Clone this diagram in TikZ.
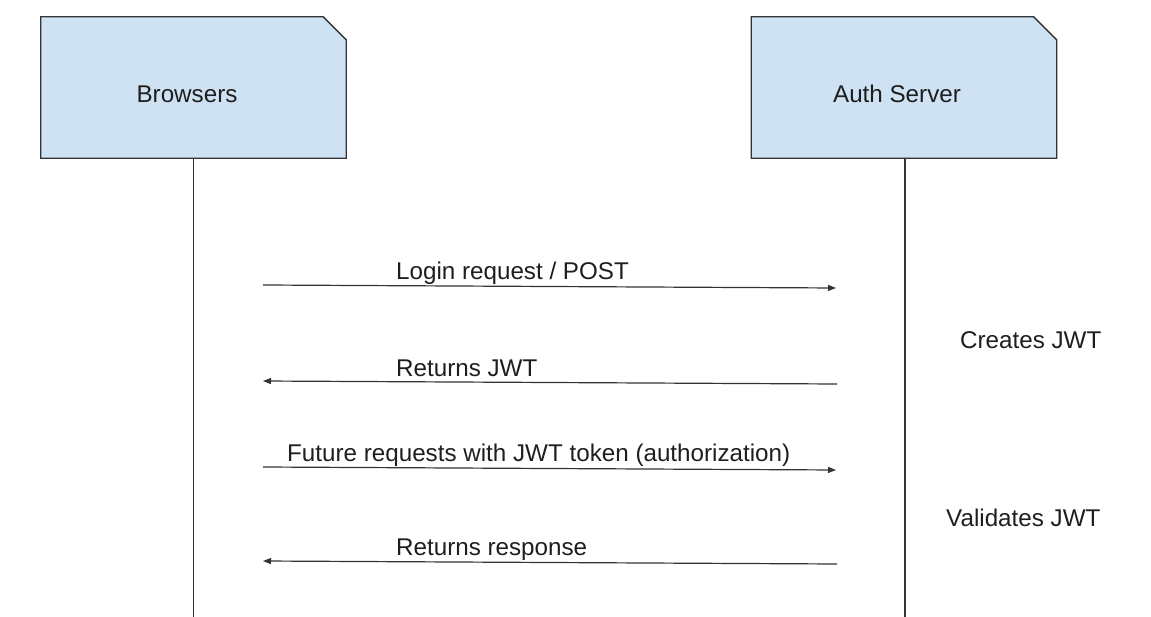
\documentclass[tikz,border=0pt]{standalone}
\usepackage{fontspec}
\setmainfont{Liberation Sans}
\usetikzlibrary{arrows.meta}
\definecolor{boxfill}{HTML}{CFE2F3}
\definecolor{lineclr}{HTML}{333333}
\definecolor{txtclr}{HTML}{1E1E1E}
\tikzset{
  boxarea/.style={rectangle, inner sep=0pt, minimum width=305pt, minimum height=141pt, draw=none},
  boxshape/.style={fill=boxfill, draw=lineclr, line width=1.3pt, line join=miter},
  lbl/.style={inner sep=0pt, text=txtclr, font=\fontsize{24.2}{29}\selectfont},
  life/.style={draw=lineclr, line width=1.3pt},
  msg/.style={draw=lineclr, line width=1.2pt, -{Triangle[length=8pt,width=6pt]}},
}
\begin{document}
\begin{tikzpicture}[x=1pt,y=-1pt]
\useasboundingbox (0,0) rectangle (1151,617);
\coordinate (bottom) at (0,617);
% boxes
\node[boxarea] (br) at (193.5,87.5) {};
\node[boxarea] (as) at (904,87.5) {};
\path[boxshape] (br.south west) -- (br.north west) -- ([xshift=-23pt]br.north east) -- ([yshift=-23pt]br.north east) -- (br.south east) -- cycle;
\path[boxshape] (as.south west) -- (as.north west) -- ([xshift=-23pt]as.north east) -- ([yshift=-23pt]as.north east) -- (as.south east) -- cycle;
\node[lbl, anchor=base] (brt) at (187,103) {Browsers};
\node[lbl, anchor=base] (ast) at (897,103) {Auth Server};
% lifelines
\draw[life] (br.south) -- (br.south |- bottom);
\draw[life] ([xshift=1pt]as.south) -- ([xshift=1pt]as.south |- bottom);
% message end points
\coordinate (m1s) at (263,285);
\coordinate (m1e) at (836,288);
\coordinate (m2s) at (837,384);
\coordinate (m2e) at (263,381);
\coordinate (m3s) at (263,467);
\coordinate (m3e) at (836,470);
\coordinate (m4s) at (837,564);
\coordinate (m4e) at (263,561);
\draw[msg] (m1s) -- (m1e);
\draw[msg] (m2s) -- (m2e);
\draw[msg] (m3s) -- (m3e);
\draw[msg] (m4s) -- (m4e);
% labels
\node[lbl, anchor=base west] (l1) at (396,280) {Login request / POST};
\node[lbl, anchor=base west] (l2) at (396,377) {Returns JWT};
\node[lbl, anchor=base west] (l3) at (287,461) {Future requests with JWT token (authorization)};
\node[lbl, anchor=base west] (l4) at (396,555) {Returns response};
\node[lbl, anchor=base west] (n1) at (960,349) {Creates JWT};
\node[lbl, anchor=base west] (n2) at (946,526) {Validates JWT};
\end{tikzpicture}
\end{document}
